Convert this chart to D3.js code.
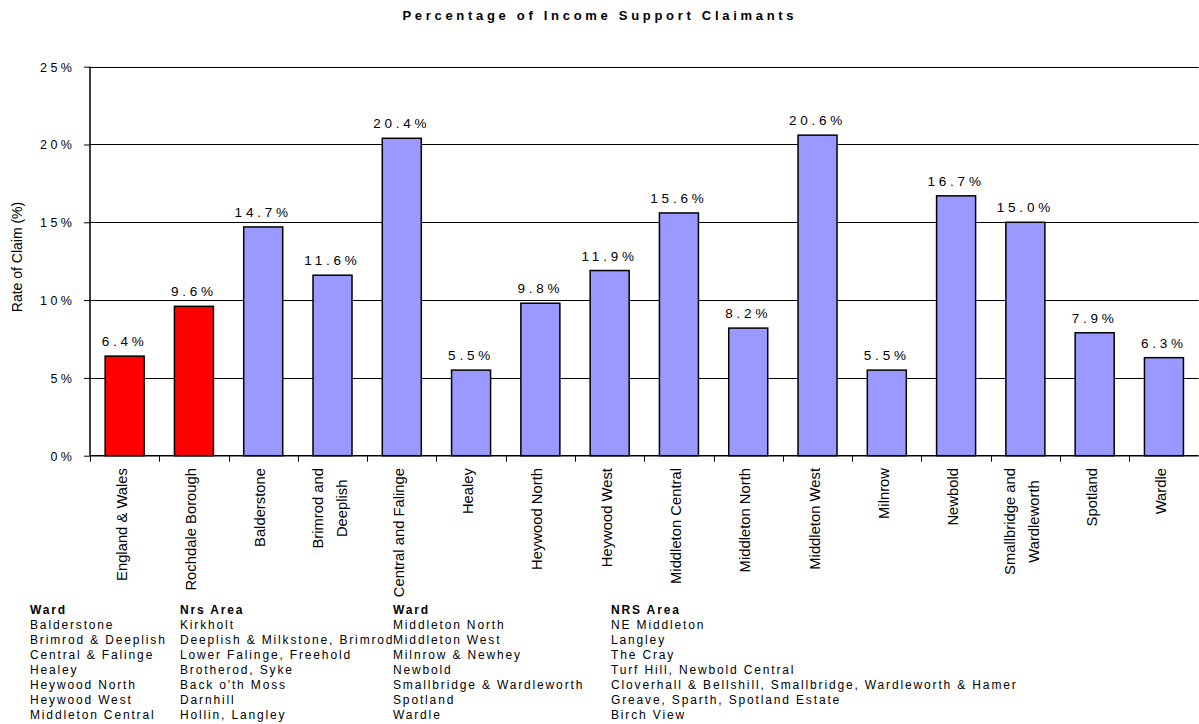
<!DOCTYPE html>
<html>
<head>
<meta charset="utf-8">
<script src="https://cdn.jsdelivr.net/npm/d3@7"></script>
<style>
  html, body { margin: 0; padding: 0; background: #fff; }
  svg { display: block; font-family: Arial, "Liberation Sans", sans-serif; }
</style>
</head>
<body>
<svg id="chart" width="1199" height="724"></svg>
<script>
// ---------- data ----------
const categories = [
  "England & Wales", "Rochdale Borough", "Balderstone", "Brimrod and\nDeeplish",
  "Central and Falinge", "Healey", "Heywood North", "Heywood West",
  "Middleton Central", "Middleton North", "Middleton West", "Milnrow",
  "Newbold", "Smallbridge and\nWardleworth", "Spotland", "Wardle"
];
const values = [6.4, 9.6, 14.7, 11.6, 20.4, 5.5, 9.8, 11.9, 15.6, 8.2, 20.6, 5.5, 16.7, 15.0, 7.9, 6.3];
const isComparison = [true, true, false, false, false, false, false, false, false, false, false, false, false, false, false, false];
const yTicks = [0, 5, 10, 15, 20, 25];
const titleText = "Percentage of Income Support Claimants";
const yAxisTitle = "Rate of Claim (%)";

const footWard1 = ["Balderstone", "Brimrod & Deeplish", "Central & Falinge", "Healey", "Heywood North", "Heywood West", "Middleton Central"];
const footArea1 = ["Kirkholt", "Deeplish & Milkstone, Brimrod", "Lower Falinge, Freehold", "Brotherod, Syke", "Back o'th Moss", "Darnhill", "Hollin, Langley"];
const footWard2 = ["Middleton North", "Middleton West", "Milnrow & Newhey", "Newbold", "Smallbridge & Wardleworth", "Spotland", "Wardle"];
const footArea2 = ["NE Middleton", "Langley", "The Cray", "Turf Hill, Newbold Central", "Cloverhall & Bellshill, Smallbridge, Wardleworth & Hamer", "Greave, Sparth, Spotland Estate", "Birch View"];
const footHeads = ["Ward", "Nrs Area", "Ward", "NRS Area"];

// ---------- layout ----------
const svg = d3.select("#chart");
const plot = { left: 90, right: 1198.6, top: 66.7, bottom: 455.7 };

const x = d3.scaleBand()
  .domain(categories)
  .range([plot.left, plot.right])
  .paddingInner(0.437)
  .paddingOuter(0.2185);

const y = d3.scaleLinear().domain([0, 25]).range([plot.bottom, plot.top]);

// title
svg.append("text")
  .attr("x", 598 + 1.85)
  .attr("y", 20)
  .attr("text-anchor", "middle")
  .style("font-size", "13px")
  .style("font-weight", "bold")
  .style("letter-spacing", "3.7px")
  .text(titleText);

// gridlines
svg.append("g")
  .selectAll("line")
  .data(yTicks.filter(d => d > 0))
  .join("line")
  .attr("x1", plot.left)
  .attr("x2", plot.right)
  .attr("y1", d => Math.round(y(d)) + 0.5)
  .attr("y2", d => Math.round(y(d)) + 0.5)
  .attr("stroke", "#000")
  .attr("stroke-width", 1);

// y axis
const yAxis = d3.axisLeft(y).tickValues(yTicks).tickSize(6).tickPadding(0).tickFormat(d => d + "%");
const gy = svg.append("g").attr("transform", `translate(${plot.left},0)`).call(yAxis);
gy.select(".domain").attr("stroke", "#000").attr("stroke-width", 1.5).attr("d", `M0,${plot.top}V${plot.bottom}`);
gy.selectAll(".tick line").attr("stroke", "#000");
gy.selectAll(".tick text")
  .attr("x", -18 + 3.5)
  .attr("dy", "0.35em")
  .attr("fill", "#000")
  .style("font-family", "Arial, 'Liberation Sans', sans-serif")
  .style("font-size", "12.5px")
  .style("letter-spacing", "3.5px");

// y axis title
svg.append("text")
  .attr("transform", `translate(22,257) rotate(-90)`)
  .attr("text-anchor", "middle")
  .style("font-size", "14px")
  .text(yAxisTitle);

// bars
svg.append("g")
  .selectAll("rect")
  .data(categories)
  .join("rect")
  .attr("x", d => x(d))
  .attr("y", (d, i) => y(values[i]))
  .attr("width", x.bandwidth())
  .attr("height", (d, i) => y(0) - y(values[i]))
  .attr("fill", (d, i) => isComparison[i] ? "#FF0000" : "#9999FF")
  .attr("stroke", "#000")
  .attr("stroke-width", 1.5);

// value labels
svg.append("g")
  .selectAll("text")
  .data(categories)
  .join("text")
  .attr("x", d => x(d) + x.bandwidth() / 2)
  .attr("y", (d, i) => y(values[i]) - 10)
  .attr("text-anchor", "middle")
  .style("font-size", "13.5px")
  .style("letter-spacing", "3.8px")
  .text((d, i) => values[i].toFixed(1) + "%");

// x axis line and ticks at band boundaries
const step = x.step();
const boundaries = d3.range(categories.length + 1).map(i => plot.left + i * step);
svg.append("line")
  .attr("x1", plot.left).attr("x2", plot.right)
  .attr("y1", plot.bottom).attr("y2", plot.bottom)
  .attr("stroke", "#000").attr("stroke-width", 1.5);
svg.append("g")
  .selectAll("line")
  .data(boundaries)
  .join("line")
  .attr("x1", d => Math.round(d) + 0.5).attr("x2", d => Math.round(d) + 0.5)
  .attr("y1", plot.bottom).attr("y2", plot.bottom + 6)
  .attr("stroke", "#000").attr("stroke-width", 1);

// category labels (rotated)
const labelTop = 468;
const catG = svg.append("g");
categories.forEach(c => {
  const lines = c.split("\n");
  const cx = x(c) + x.bandwidth() / 2;
  const g = catG.append("g");
  const texts = lines.map((ln, i) => g.append("text")
    .attr("text-anchor", "middle")
    .style("font-size", "14.8px")
    .text(ln));
  const maxLen = d3.max(texts, t => t.node().getComputedTextLength());
  texts.forEach((t, i) => {
    const bx = cx + 2 + (i - (lines.length - 1) / 2) * 24;
    t.attr("transform", `translate(${bx},${labelTop + maxLen / 2}) rotate(-90)`);
  });
});

// footer tables
const colX = [30, 180, 393, 611];
const cols = [footWard1, footArea1, footWard2, footArea2];
const rowY0 = 614, rowStep = 15.05;
const foot = svg.append("g").style("font-size", "12px").style("letter-spacing", "1.85px");
cols.forEach((col, ci) => {
  foot.append("text")
    .attr("x", colX[ci]).attr("y", rowY0)
    .style("font-weight", "bold")
    .text(footHeads[ci]);
  col.forEach((t, ri) => {
    foot.append("text")
      .attr("x", colX[ci]).attr("y", rowY0 + (ri + 1) * rowStep)
      .text(t);
  });
});
</script>
</body>
</html>
